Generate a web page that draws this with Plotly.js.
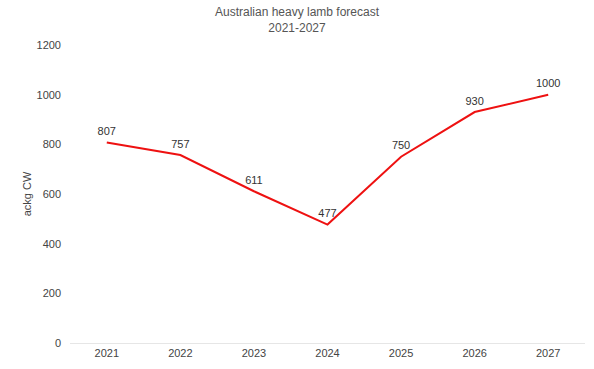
<!DOCTYPE html>
<html><head><meta charset="utf-8">
<script src="https://cdn.plot.ly/plotly-3.0.1.min.js"></script>
<style>html,body{margin:0;padding:0;background:#fff;}#chart{width:594px;height:369px;}</style>
</head><body><div id="chart"></div>
<script>
const years = ['2021','2022','2023','2024','2025','2026','2027'];
const prices = [807, 757, 611, 477, 750, 930, 1000];
const yTicks = [0, 200, 400, 600, 800, 1000, 1200];

const trace = {
  x: years, y: prices, type: 'scatter', mode: 'lines+markers+text',
  marker: {size: 6, opacity: 0, color: '#ee1111'},
  text: prices.map(String), textposition: 'top center',
  textfont: {family: 'Arial, Liberation Sans, sans-serif', size: 11, color: '#333'},
  line: {color: '#ee1111', width: 2}, hoverinfo: 'none', cliponaxis: false
};
const layout = {
  width: 594, height: 369,
  margin: {l: 70, r: 9, t: 45, b: 26},
  paper_bgcolor: '#fff', plot_bgcolor: '#fff',
  font: {family: 'Arial, Liberation Sans, sans-serif', size: 11, color: '#444'},
  title: {text: 'Australian heavy lamb forecast<br>2021-2027', x: 0.5, xanchor: 'center',
    yref: 'container', y: 1 - 16/369, yanchor: 'middle',
    font: {size: 12, color: '#555'}},
  showlegend: false,
  xaxis: {type: 'category', range: [-0.5, 6.5], showgrid: false, zeroline: false,
    showline: true, linecolor: '#e6e6e6', linewidth: 1, ticks: '', tickfont: {size: 11, color: '#444'}},
  yaxis: {range: [0, 1200], tickvals: yTicks, showgrid: false, zeroline: false, showline: false,
    ticks: '', ticklabelstandoff: 8, tickfont: {size: 11, color: '#444'},
    title: {text: 'ackg CW', font: {size: 11, color: '#444'}, standoff: 2}}
};
Plotly.newPlot('chart', [trace], layout, {displayModeBar: false, staticPlot: true});
</script></body></html>
